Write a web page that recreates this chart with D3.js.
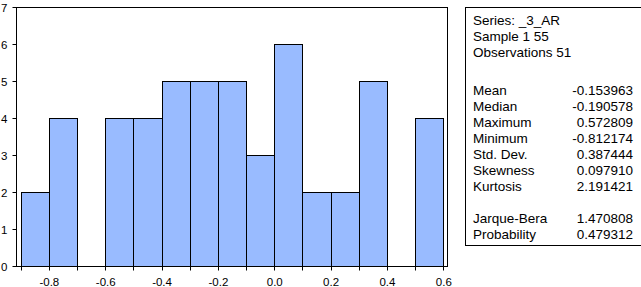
<!DOCTYPE html>
<html lang="en">
<head>
<meta charset="UTF-8">
<title>Histogram _3_AR</title>
<script src="https://cdn.jsdelivr.net/npm/d3@7"></script>
<style>
body { margin: 0; background: #fff; }
svg { display: block; font-family: "Liberation Sans", Arial, sans-serif; }
.bar { fill: #99bbff; stroke: #000; stroke-width: 1; }
.axis text { font-size: 11.5px; fill: #000; }
.axis path, .axis line { stroke: #000; }
.stats text { font-size: 13.5px; fill: #000; }
</style>
</head>
<body>
<script>
// bin edges (width 0.1) and counts
const binStarts = [-0.9, -0.8, -0.7, -0.6, -0.5, -0.4, -0.3, -0.2, -0.1, 0.0, 0.1, 0.2, 0.3, 0.4, 0.5]
const counts    = [2, 4, 0, 4, 4, 5, 5, 5, 3, 6, 2, 2, 5, 0, 4]
const binWidth = 0.1
const xTicks = [-0.8, -0.6, -0.4, -0.2, 0.0, 0.2, 0.4, 0.6]
const xMinorTicks = [-0.9, -0.8, -0.7, -0.6, -0.5, -0.4, -0.3, -0.2, -0.1, 0.0, 0.1, 0.2, 0.3, 0.4, 0.5, 0.6]
const yTicks = [0, 1, 2, 3, 4, 5, 6, 7]

const headerLines = ["Series: _3_AR", "Sample 1 55", "Observations 51"]
const statNames  = ["Mean", "Median", "Maximum", "Minimum", "Std. Dev.", "Skewness", "Kurtosis", "", "Jarque-Bera", "Probability"]
const statValues = ["-0.153963", "-0.190578", "0.572809", "-0.812174", "0.387444", "0.097910", "2.191421", "", "1.470808", "0.479312"]

const svg = d3.select("body").append("svg").attr("width", 641).attr("height", 287)

const plotLeft = 16, plotRight = 447, plotTop = 7, plotBottom = 266

// -0.9 sits at 20.7px, 0.6 at 443.3px
const x = d3.scaleLinear().domain([-0.9, 0.6]).range([20.7, 443.3])
const y = d3.scaleLinear().domain([0, 7]).range([plotBottom, plotTop])

svg.append("g").selectAll("rect")
    .data(binStarts.map((s, i) => ({s: s, c: counts[i]})).filter(d => d.c > 0))
    .enter().append("rect")
    .attr("class", "bar")
    .attr("x", d => Math.round(x(d.s)) + 0.5)
    .attr("width", d => Math.round(x(d.s + binWidth)) - Math.round(x(d.s)))
    .attr("y", d => Math.round(y(d.c)) + 0.5)
    .attr("height", d => Math.round(y(0)) - Math.round(y(d.c)))

// frame
svg.append("rect")
    .attr("x", plotLeft + 0.5).attr("y", plotTop + 0.5)
    .attr("width", plotRight - plotLeft).attr("height", plotBottom - plotTop)
    .attr("fill", "none").attr("stroke", "#000")

// x axis
const xAxis = svg.append("g").attr("class", "axis")
    .attr("transform", `translate(0.5,${plotBottom + 0.5})`)
xAxis.selectAll("line").data(xMinorTicks).enter().append("line")
    .attr("x1", d => Math.round(x(d))).attr("x2", d => Math.round(x(d)))
    .attr("y1", 0).attr("y2", 4)
xAxis.selectAll("text").data(xTicks).enter().append("text")
    .attr("x", d => x(d)).attr("y", 19)
    .attr("text-anchor", "middle")
    .text(d => d3.format(".1f")(d).replace("−", "-"))

// y axis
const yAxis = svg.append("g").attr("class", "axis")
    .attr("transform", `translate(${plotLeft + 0.5},0.5)`)
yAxis.selectAll("line").data(yTicks).enter().append("line")
    .attr("x1", -4).attr("x2", 0)
    .attr("y1", d => Math.round(y(d))).attr("y2", d => Math.round(y(d)))
yAxis.selectAll("text").data(yTicks).enter().append("text")
    .attr("x", -9).attr("y", d => y(d) + 4)
    .attr("text-anchor", "end")
    .text(d => d)

// stats box
const stats = svg.append("g").attr("class", "stats")
stats.append("rect")
    .attr("x", 465.5).attr("y", 7.5).attr("width", 180).attr("height", 238)
    .attr("fill", "#fff").attr("stroke", "#000")
stats.selectAll(".hdr").data(headerLines).enter().append("text")
    .attr("class", "hdr")
    .attr("x", 473).attr("y", (d, i) => 25 + i * 16)
    .text(d => d)
stats.selectAll(".nm").data(statNames).enter().append("text")
    .attr("class", "nm")
    .attr("x", 473).attr("y", (d, i) => 95 + i * 16)
    .text(d => d)
stats.selectAll(".val").data(statValues).enter().append("text")
    .attr("class", "val")
    .attr("x", 633).attr("y", (d, i) => 95 + i * 16)
    .attr("text-anchor", "end")
    .text(d => d)
</script>
</body>
</html>
